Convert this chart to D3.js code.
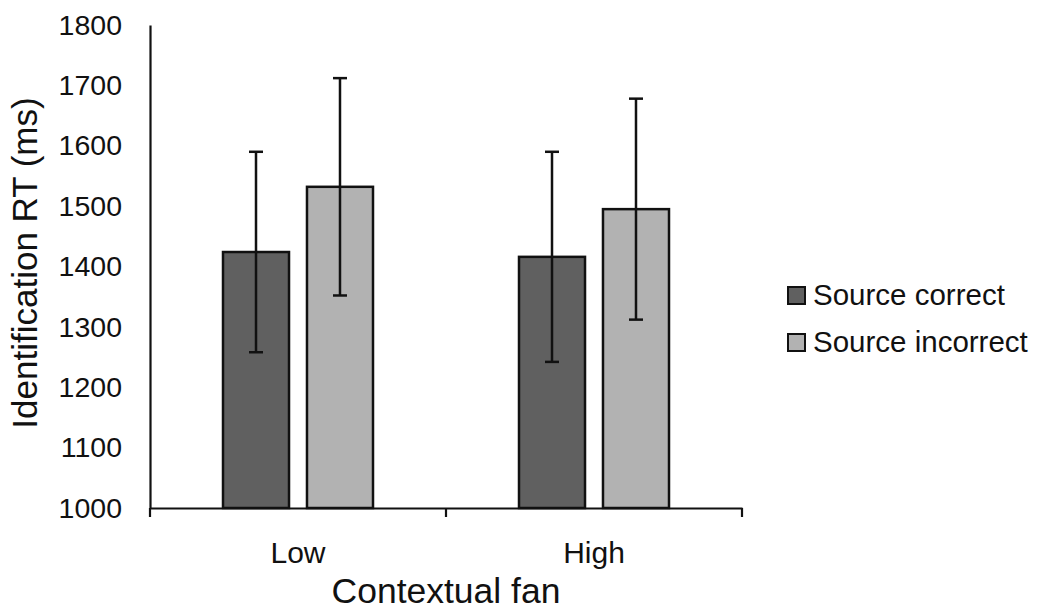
<!DOCTYPE html>
<html>
<head>
<meta charset="utf-8">
<script src="https://cdn.jsdelivr.net/npm/d3@7"></script>
<style>
  body { margin: 0; background: #fff; }
  svg { font-family: "Liberation Sans", Arial, sans-serif; }
</style>
</head>
<body>
<svg id="chart"></svg>
<script>
/* データ */
const groups = ["Low", "High"];
const series = ["Source correct", "Source incorrect"];
const means = [
  [1424, 1532],   // Low
  [1416, 1495],   // High
];
const errors = [
  [166, 180],
  [174, 183],
];
const yTicks = [1000, 1100, 1200, 1300, 1400, 1500, 1600, 1700, 1800];
const colors = ["#606060", "#b2b2b2"];

const width = 1041, height = 610;
const plot = { left: 150, right: 742, top: 25, bottom: 508 };

const svg = d3.select("#chart")
  .attr("width", width)
  .attr("height", height);

/* スケール */
const x0 = d3.scaleBand()
  .domain(groups)
  .range([plot.left, plot.right]);
const x1 = d3.scaleBand()
  .domain(series)
  .range([73, 223])
  .paddingInner(0.214);
const y = d3.scaleLinear()
  .domain([1000, 1800])
  .range([plot.bottom, plot.top]);

/* 棒 */
const g = svg.append("g");
groups.forEach((grp, gi) => {
  series.forEach((s, si) => {
    const v = means[gi][si];
    g.append("rect")
      .attr("x", x0(grp) + x1(s))
      .attr("y", y(v))
      .attr("width", x1.bandwidth())
      .attr("height", y(1000) - y(v))
      .attr("fill", colors[si])
      .attr("stroke", "#111")
      .attr("stroke-width", 2.5);
  });
});

/* エラーバー */
groups.forEach((grp, gi) => {
  series.forEach((s, si) => {
    const cx = x0(grp) + x1(s) + x1.bandwidth() / 2;
    const lo = means[gi][si] - errors[gi][si];
    const hi = means[gi][si] + errors[gi][si];
    g.append("line")
      .attr("x1", cx).attr("x2", cx)
      .attr("y1", y(lo)).attr("y2", y(hi))
      .attr("stroke", "#111").attr("stroke-width", 2.5);
    [lo, hi].forEach(v => {
      g.append("line")
        .attr("x1", cx - 7).attr("x2", cx + 7)
        .attr("y1", y(v)).attr("y2", y(v))
        .attr("stroke", "#111").attr("stroke-width", 2.5);
    });
  });
});

/* y 軸 */
const yAxis = svg.append("g")
  .attr("transform", "translate(" + plot.left + ",0)")
  .call(d3.axisLeft(y).tickValues(yTicks).tickFormat(d3.format("d"))
    .tickSize(0).tickSizeOuter(0).tickPadding(28));
yAxis.select(".domain").attr("stroke", "#111").attr("stroke-width", 2.2);
yAxis.selectAll("text").attr("font-size", 28.5).attr("fill", "#111")
  .attr("font-family", "'Liberation Sans', Arial, sans-serif");

/* x 軸 */
const xAxis = svg.append("g")
  .attr("transform", "translate(0," + plot.bottom + ")")
  .call(d3.axisBottom(x0).tickSize(0).tickSizeOuter(0).tickPadding(34));
xAxis.select(".domain").attr("stroke", "#111").attr("stroke-width", 2.2);
xAxis.selectAll("text").attr("font-size", 30).attr("fill", "#111")
  .attr("font-family", "'Liberation Sans', Arial, sans-serif");

// 区切りの目盛り
const bounds = groups.map(d => x0(d)).concat([x0.range()[1]]);
xAxis.selectAll(".sep")
  .data(bounds)
  .join("line")
  .attr("x1", d => d).attr("x2", d => d)
  .attr("y1", 0).attr("y2", 9)
  .attr("stroke", "#111").attr("stroke-width", 2.2);

/* 軸タイトル */
svg.append("text")
  .attr("x", (plot.left + plot.right) / 2)
  .attr("y", 603)
  .attr("text-anchor", "middle")
  .attr("font-size", 35.5)
  .attr("fill", "#111")
  .text("Contextual fan");

svg.append("text")
  .attr("transform", "translate(37,263) rotate(-90)")
  .attr("text-anchor", "middle")
  .attr("font-size", 35)
  .attr("fill", "#111")
  .text("Identification RT (ms)");

/* 凡例 */
const legend = svg.append("g").attr("transform", "translate(788,295)");
series.forEach((s, i) => {
  const row = legend.append("g").attr("transform", "translate(0," + i * 47 + ")");
  row.append("rect")
    .attr("x", 0).attr("y", -8)
    .attr("width", 17).attr("height", 17)
    .attr("fill", colors[i])
    .attr("stroke", "#111").attr("stroke-width", 2);
  row.append("text")
    .attr("x", 25).attr("y", 0)
    .attr("dy", "0.35em")
    .attr("font-size", 29.5)
    .attr("fill", "#111")
    .text(s);
});
</script>
</body>
</html>
